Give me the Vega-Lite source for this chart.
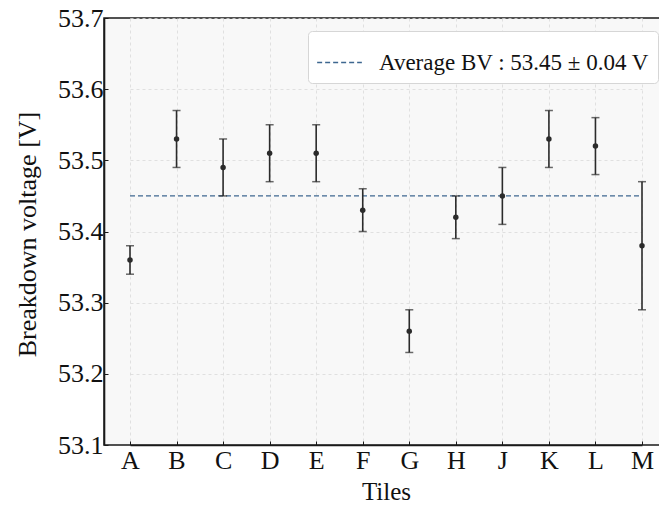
{
  "$schema": "https://vega.github.io/schema/vega-lite/v6.json",
  "width": 555,
  "height": 427,
  "autosize": {"type": "none"},
  "padding": {"left": 104, "top": 18, "right": 0, "bottom": 64},
  "background": "white",
  "config": {
    "font": "Liberation Serif",
    "view": {"fill": "#f8f8f8", "stroke": "#1a1a1a", "strokeWidth": 1.5, "strokeDash": [555, 427, 982, 10]},
    "axis": {
      "labelFont": "Liberation Serif",
      "titleFont": "Liberation Serif",
      "labelColor": "#111111",
      "titleColor": "#111111",
      "titleFontWeight": "normal",
      "grid": true,
      "gridColor": "#d9d9d9",
      "gridDash": [3, 3],
      "gridWidth": 0.8,
      "domain": true,
      "domainColor": "#1a1a1a",
      "domainWidth": 1.6,
      "tickColor": "#1a1a1a",
      "tickSize": -4,
      "tickWidth": 1
    },
    "legend": {
      "labelFont": "Liberation Serif",
      "labelFontSize": 23,
      "labelColor": "#111111",
      "labelLimit": 0
    }
  },
  "data": {
    "values": [
      {"tile": "A", "v": 53.36, "lo": 53.34, "hi": 53.38},
      {"tile": "B", "v": 53.53, "lo": 53.49, "hi": 53.57},
      {"tile": "C", "v": 53.49, "lo": 53.45, "hi": 53.53},
      {"tile": "D", "v": 53.51, "lo": 53.47, "hi": 53.55},
      {"tile": "E", "v": 53.51, "lo": 53.47, "hi": 53.55},
      {"tile": "F", "v": 53.43, "lo": 53.40, "hi": 53.46},
      {"tile": "G", "v": 53.26, "lo": 53.23, "hi": 53.29},
      {"tile": "H", "v": 53.42, "lo": 53.39, "hi": 53.45},
      {"tile": "J", "v": 53.45, "lo": 53.41, "hi": 53.49},
      {"tile": "K", "v": 53.53, "lo": 53.49, "hi": 53.57},
      {"tile": "L", "v": 53.52, "lo": 53.48, "hi": 53.56},
      {"tile": "M", "v": 53.38, "lo": 53.29, "hi": 53.47}
    ]
  },
  "encoding": {
    "x": {
      "field": "tile",
      "type": "nominal",
      "scale": {"type": "point", "range": [26, 538], "padding": 0},
      "axis": {
        "title": "Tiles",
        "titleFontSize": 25,
        "titleX": 282,
        "labelFontSize": 26,
        "labelAngle": 0,
        "labelPadding": 6,
        "titlePadding": 6
      }
    }
  },
  "layer": [
    {
      "data": {"values": [{"label": "Average BV : 53.45 ± 0.04 V"}]},
      "mark": {"type": "rule", "strokeDash": [5, 3], "strokeWidth": 1.3},
      "encoding": {
        "x": {"datum": "A"},
        "x2": {"datum": "M"},
        "y": {"datum": 53.45, "type": "quantitative"},
        "stroke": {
          "field": "label",
          "type": "nominal",
          "scale": {"range": ["#3e6790"]},
          "legend": {
            "title": null,
            "orient": "none",
            "legendX": 204,
            "legendY": 13,
            "symbolType": "stroke",
            "symbolSize": 2000,
            "symbolStrokeWidth": 1.3,
            "symbolDash": [5, 3],
            "fillColor": "white",
            "strokeColor": "#d6d6d6",
            "cornerRadius": 4,
            "padding": 8,
            "labelOffset": 16
          }
        }
      }
    },
    {
      "mark": {"type": "rule", "color": "#2b2b2b", "strokeWidth": 1.6},
      "encoding": {
        "y": {
          "field": "lo",
          "type": "quantitative",
          "scale": {"domain": [53.1, 53.7], "nice": false, "zero": false},
          "axis": {
            "title": "Breakdown voltage [V]",
            "titleFontSize": 26,
            "titleY": 216,
            "labelFontSize": 26,
            "values": [53.1, 53.2, 53.3, 53.4, 53.5, 53.6, 53.7],
            "format": ".1f",
            "labelPadding": 5,
            "titlePadding": 17
          }
        },
        "y2": {"field": "hi"}
      }
    },
    {
      "mark": {"type": "tick", "color": "#2b2b2b", "size": 8, "thickness": 1.5, "orient": "horizontal"},
      "encoding": {"y": {"field": "lo", "type": "quantitative"}}
    },
    {
      "mark": {"type": "tick", "color": "#2b2b2b", "size": 8, "thickness": 1.5, "orient": "horizontal"},
      "encoding": {"y": {"field": "hi", "type": "quantitative"}}
    },
    {
      "mark": {"type": "point", "filled": true, "color": "#2b2b2b", "size": 30, "opacity": 1},
      "encoding": {"y": {"field": "v", "type": "quantitative"}}
    }
  ]
}
